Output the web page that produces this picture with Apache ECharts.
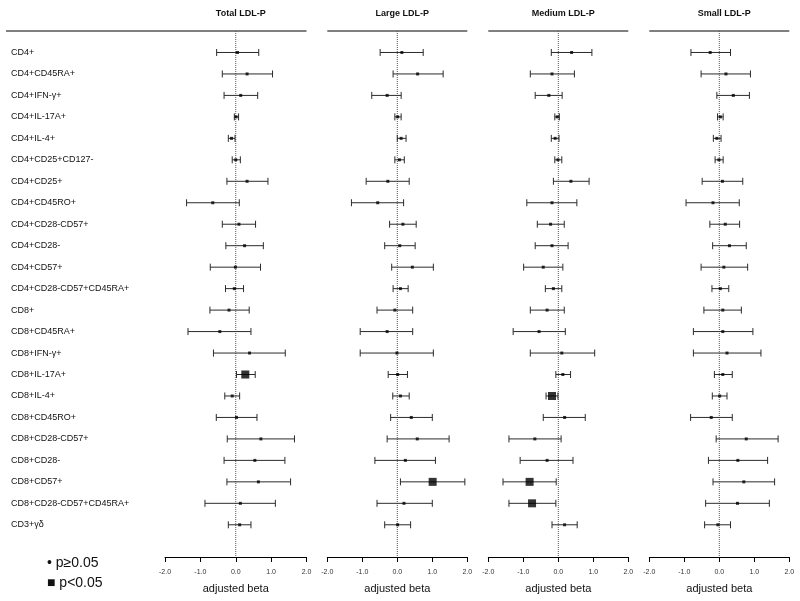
<!DOCTYPE html>
<html>
<head>
<meta charset="utf-8">
<script src="https://cdn.jsdelivr.net/npm/echarts@6/dist/echarts.min.js"></script>
<style>
  html, body { margin: 0; padding: 0; background: #fff; }
  #main { width: 800px; height: 601px; }
</style>
</head>
<body>
<div id="main"></div>
<script>
// row labels, top to bottom
var rows = ['CD4+', 'CD4+CD45RA+', 'CD4+IFN-γ+', 'CD4+IL-17A+', 'CD4+IL-4+', 'CD4+CD25+CD127-',
  'CD4+CD25+', 'CD4+CD45RO+', 'CD4+CD28-CD57+', 'CD4+CD28-', 'CD4+CD57+', 'CD4+CD28-CD57+CD45RA+',
  'CD8+', 'CD8+CD45RA+', 'CD8+IFN-γ+', 'CD8+IL-17A+', 'CD8+IL-4+', 'CD8+CD45RO+',
  'CD8+CD28-CD57+', 'CD8+CD28-', 'CD8+CD57+', 'CD8+CD28-CD57+CD45RA+', 'CD3+γδ'];
var panels = ['Total LDL-P', 'Large LDL-P', 'Medium LDL-P', 'Small LDL-P'];
var xTicks = [-2, -1, 0, 1, 2];

// Total LDL-P
var totalBeta = [0.05, 0.32, 0.14, 0.01, -0.12, 0.00, 0.32, -0.65, 0.09, 0.25, -0.01, -0.04,
  -0.19, -0.45, 0.39, 0.27, -0.10, 0.02, 0.71, 0.54, 0.64, 0.13, 0.11];
var totalLo = [-0.54, -0.38, -0.33, -0.04, -0.21, -0.10, -0.25, -1.39, -0.38, -0.28, -0.72, -0.29,
  -0.73, -1.35, -0.63, 0.02, -0.31, -0.55, -0.24, -0.33, -0.25, -0.87, -0.21];
var totalHi = [0.65, 1.04, 0.62, 0.08, -0.02, 0.13, 0.91, 0.10, 0.56, 0.78, 0.70, 0.22,
  0.38, 0.43, 1.40, 0.55, 0.11, 0.60, 1.66, 1.39, 1.55, 1.12, 0.43];
var totalSig = [15];

// Large LDL-P
var largeBeta = [0.13, 0.58, -0.29, 0.01, 0.11, 0.06, -0.27, -0.56, 0.16, 0.07, 0.43, 0.09,
  -0.07, -0.29, -0.01, 0.01, 0.09, 0.40, 0.57, 0.23, 1.01, 0.19, 0.01];
var largeLo = [-0.49, -0.12, -0.73, -0.07, 0.00, -0.07, -0.89, -1.31, -0.22, -0.36, -0.16, -0.12,
  -0.58, -1.06, -1.06, -0.26, -0.13, -0.19, -0.29, -0.64, 0.09, -0.58, -0.36];
var largeHi = [0.74, 1.31, 0.11, 0.11, 0.25, 0.20, 0.34, 0.18, 0.54, 0.51, 1.03, 0.31,
  0.44, 0.44, 1.03, 0.29, 0.34, 1.00, 1.48, 1.09, 1.93, 1.00, 0.38];
var largeSig = [20];

// Medium LDL-P
var mediumBeta = [0.38, -0.18, -0.27, -0.03, -0.09, -0.01, 0.36, -0.18, -0.22, -0.18, -0.43, -0.14,
  -0.32, -0.55, 0.10, 0.13, -0.18, 0.18, -0.67, -0.32, -0.82, -0.75, 0.18];
var mediumLo = [-0.20, -0.80, -0.66, -0.10, -0.20, -0.10, -0.14, -0.90, -0.60, -0.66, -0.99, -0.37,
  -0.80, -1.29, -0.80, -0.07, -0.35, -0.43, -1.41, -1.09, -1.58, -1.41, -0.18];
var mediumHi = [0.96, 0.46, 0.11, 0.03, 0.02, 0.10, 0.88, 0.53, 0.17, 0.28, 0.13, 0.10,
  0.17, 0.20, 1.04, 0.35, -0.01, 0.77, 0.08, 0.42, -0.06, -0.07, 0.54];
var mediumSig = [16, 20, 21];

// Small LDL-P
var smallBeta = [-0.26, 0.19, 0.40, 0.03, -0.07, -0.01, 0.09, -0.18, 0.17, 0.29, 0.13, 0.03,
  0.10, 0.10, 0.22, 0.10, 0.01, -0.23, 0.77, 0.53, 0.70, 0.52, -0.04];
var smallLo = [-0.81, -0.52, -0.07, -0.05, -0.17, -0.12, -0.49, -0.95, -0.27, -0.19, -0.52, -0.21,
  -0.44, -0.74, -0.74, -0.14, -0.20, -0.82, -0.09, -0.31, -0.18, -0.39, -0.42];
var smallHi = [0.32, 0.89, 0.86, 0.11, 0.05, 0.11, 0.67, 0.57, 0.58, 0.77, 0.81, 0.27,
  0.63, 0.96, 1.19, 0.37, 0.22, 0.37, 1.68, 1.38, 1.58, 1.43, 0.32];
var smallSig = [];

var beta = [totalBeta, largeBeta, mediumBeta, smallBeta];
var lo = [totalLo, largeLo, mediumLo, smallLo];
var hi = [totalHi, largeHi, mediumHi, smallHi];
var sig = [totalSig, largeSig, mediumSig, smallSig];

var chart = echarts.init(document.getElementById('main'));

// panel placement
var gridLeft = [165, 327.3, 488.3, 649.3];
var gridWidth = [141.5, 140, 140, 140];
var gTop = 31, gBottom = 44;

function renderBar(params, api) {
  var a = api.coord([api.value(0), api.value(2)]);
  var b = api.coord([api.value(1), api.value(2)]);
  var h = 3.5;
  var st = { stroke: '#2b2b2b', lineWidth: 1 };
  return {
    type: 'group',
    children: [
      { type: 'line', shape: { x1: a[0], y1: a[1], x2: b[0], y2: b[1] }, style: st },
      { type: 'line', shape: { x1: a[0], y1: a[1] - h, x2: a[0], y2: a[1] + h }, style: st },
      { type: 'line', shape: { x1: b[0], y1: b[1] - h, x2: b[0], y2: b[1] + h }, style: st }
    ]
  };
}

var grids = [], xAxes = [], yAxes = [], series = [], titles = [], graphics = [];

for (var k = 0; k < 4; k++) {
  grids.push({ left: gridLeft[k], width: gridWidth[k], top: gTop, bottom: gBottom });
  xAxes.push({
    gridIndex: k, type: 'value', min: -2, max: 2, interval: 1,
    name: 'adjusted beta', nameLocation: 'middle', nameGap: 26,
    nameTextStyle: { fontSize: 11, color: '#111' },
    axisLine: { show: true, onZero: false, lineStyle: { color: '#000', width: 1 } },
    axisTick: { show: true, length: 5, lineStyle: { color: '#000' } },
    axisLabel: { fontSize: 7, color: '#333', margin: 12, formatter: function (v) { return v.toFixed(1); } },
    splitLine: { show: false }
  });
  yAxes.push({
    gridIndex: k, type: 'value', inverse: true, min: -1, max: 23.5, interval: 1,
    axisLine: { show: false }, axisTick: { show: false }, splitLine: { show: false },
    axisLabel: {
      show: k === 0, align: 'left', margin: 154, fontSize: 9, color: '#111',
      formatter: function (v) { return (v >= 0 && v === Math.round(v) && rows[v]) ? rows[v] : ''; }
    }
  });

  // dotted zero line
  series.push({
    type: 'line', xAxisIndex: k, yAxisIndex: k, silent: true, symbol: 'none',
    data: [[0, -1], [0, 23.5]],
    lineStyle: { type: 'dotted', color: '#555', width: 1 }, z: 1
  });

  var bars = [], ns = [], sg = [];
  for (var i = 0; i < rows.length; i++) {
    bars.push([lo[k][i], hi[k][i], i]);
    if (sig[k].indexOf(i) >= 0) sg.push([beta[k][i], i]);
    else ns.push([beta[k][i], i]);
  }
  series.push({
    type: 'custom', xAxisIndex: k, yAxisIndex: k, renderItem: renderBar,
    encode: { x: [0, 1], y: 2 }, data: bars, z: 2, silent: true
  });
  series.push({
    name: 'p≥0.05', type: 'scatter', xAxisIndex: k, yAxisIndex: k,
    symbol: 'rect', symbolSize: 3, itemStyle: { color: '#000' }, data: ns, z: 3
  });
  series.push({
    name: 'p<0.05', type: 'scatter', xAxisIndex: k, yAxisIndex: k,
    symbol: 'rect', symbolSize: 8, itemStyle: { color: '#000' }, data: sg, z: 3
  });

  titles.push({
    text: panels[k], left: gridLeft[k] + gridWidth[k] / 2, top: 4, textAlign: 'center',
    textStyle: { fontSize: 9, fontWeight: 'bold', color: '#111' }
  });

  // header rule above each panel
  var x1 = k === 0 ? 6 : gridLeft[k];
  graphics.push({
    type: 'line', shape: { x1: x1, y1: 31, x2: gridLeft[k] + gridWidth[k], y2: 31 },
    style: { stroke: '#000', lineWidth: 1 }
  });
}

// legend text, bottom left
graphics.push({ type: 'text', left: 47, top: 556, style: { text: '• p≥0.05', fontSize: 14, fill: '#111' } });
graphics.push({ type: 'text', left: 47, top: 576, style: { text: '■ p<0.05', fontSize: 14, fill: '#111' } });

var option = {
  animation: false,
  textStyle: { fontFamily: 'Arial, "Liberation Sans", sans-serif' },
  title: titles,
  grid: grids,
  xAxis: xAxes,
  yAxis: yAxes,
  graphic: graphics,
  series: series
};

chart.setOption(option);
window.onresize = chart.resize;
</script>
</body>
</html>
